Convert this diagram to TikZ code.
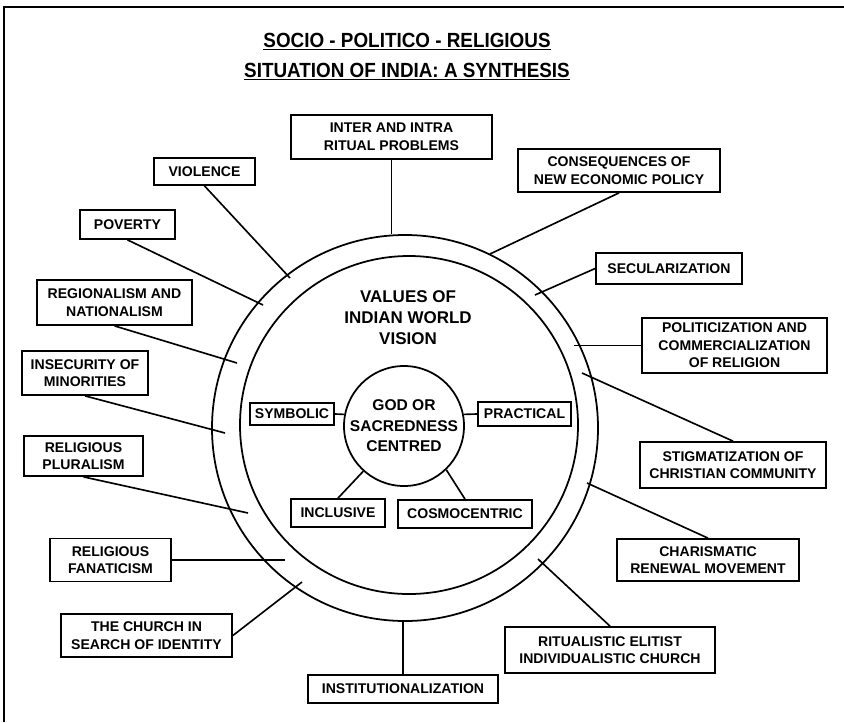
\documentclass[tikz,border=0pt]{standalone}
\usepackage{fontspec}
\setmainfont{Liberation Sans}
\newfontfamily\titlefont[FakeStretch=0.92]{Liberation Sans}
\usepackage{tikz}

\begin{document}
\begin{tikzpicture}[x=0.03cm,y=-0.03cm]
	\tikzstyle{box}=[draw=black,line width=1.5pt,align=center,inner sep=1pt,font=\fontsize{12}{15}\selectfont\bfseries]
	\tikzstyle{ring}=[draw=black,line width=1.5pt]
	\tikzstyle{link}=[draw=black,line width=1.4pt]
	\useasboundingbox (0,0) rectangle (844,722);
	\draw[line width=1.5pt] (4,722) -- (4,7) -- (844,7);
	\node[anchor=base,font=\titlefont\bfseries\fontsize{17.5}{20}\selectfont] (t1) at (407,47) {\underline{SOCIO - POLITICO - RELIGIOUS}};
	\node[anchor=base,font=\titlefont\bfseries\fontsize{17.5}{20}\selectfont] (t2) at (407,77) {\underline{SITUATION OF INDIA: A SYNTHESIS}};
	\draw[ring] (405,428) circle (5.79cm);
	\draw[ring] (409,425) circle (5.07cm);
	\node[align=center,font=\fontsize{14.5}{18}\selectfont\bfseries] (val) at (408,318) {VALUES OF\\INDIAN WORLD\\VISION};
	\node[circle,ring,minimum size=3.6cm,inner sep=0pt,align=center,font=\fontsize{13.3}{17.5}\selectfont\bfseries] (god) at (404,426) {GOD OR\\SACREDNESS\\CENTRED};
	\node[box,minimum width=6.03cm,minimum height=1.32cm] (inter) at (391.5,137) {INTER AND INTRA\\RITUAL PROBLEMS};
	\node[box,minimum width=3.03cm,minimum height=0.81cm] (viol) at (204.5,171.5) {VIOLENCE};
	\node[box,minimum width=6.06cm,minimum height=1.29cm] (cons) at (619,170.5) {CONSEQUENCES OF\\NEW ECONOMIC POLICY};
	\node[box,minimum width=2.85cm,minimum height=0.87cm] (pov) at (127.5,224.5) {POVERTY};
	\node[box,minimum width=4.38cm,minimum height=0.93cm] (sec) at (669,268.5) {SECULARIZATION};
	\node[box,minimum width=4.65cm,minimum height=1.35cm] (reg) at (114.5,302.5) {REGIONALISM AND\\NATIONALISM};
	\node[box,minimum width=5.55cm,minimum height=1.65cm] (pol) at (734.5,345.5) {POLITICIZATION AND\\COMMERCIALIZATION\\OF RELIGION};
	\node[box,minimum width=3.78cm,minimum height=1.32cm] (ins) at (85,373) {INSECURITY OF\\MINORITIES};
	\node[box,minimum width=5.58cm,minimum height=1.38cm] (stig) at (733,465) {STIGMATIZATION OF\\CHRISTIAN COMMUNITY};
	\node[box,minimum width=3.57cm,minimum height=1.2cm] (plur) at (83.5,456) {RELIGIOUS\\PLURALISM};
	\node[box,minimum width=3.63cm,minimum height=1.29cm] (fan) at (110.5,560) {RELIGIOUS\\FANATICISM};
	\node[box,minimum width=5.13cm,minimum height=1.29cm] (chu) at (146.5,635.5) {THE CHURCH IN\\SEARCH OF IDENTITY};
	\node[box,minimum width=5.7cm,minimum height=0.84cm] (inst) at (403,689) {INSTITUTIONALIZATION};
	\node[box,minimum width=6.3cm,minimum height=1.38cm] (rit) at (610,650) {RITUALISTIC ELITIST\\INDIVIDUALISTIC CHURCH};
	\node[box,minimum width=5.46cm,minimum height=1.26cm] (cha) at (708,560) {CHARISMATIC\\RENEWAL MOVEMENT};
	\node[box,minimum width=2.52cm,minimum height=0.66cm] (sym) at (292,414) {SYMBOLIC};
	\node[box,minimum width=2.79cm,minimum height=0.72cm] (pra) at (524.5,414) {PRACTICAL};
	\node[box,minimum width=2.82cm,minimum height=0.84cm] (inc) at (338,513) {INCLUSIVE};
	\node[box,minimum width=4.02cm,minimum height=0.84cm] (cos) at (465,514) {COSMOCENTRIC};
	\coordinate (p1) at (391.5,234);
	\coordinate (p2) at (290,278);
	\coordinate (p3) at (490,254);
	\coordinate (p4) at (263,305);
	\coordinate (p5) at (535,295);
	\coordinate (p6) at (237,363);
	\coordinate (p7) at (574,345.5);
	\coordinate (p8) at (225,433);
	\coordinate (p9) at (582,373);
	\coordinate (p10) at (248,513);
	\coordinate (p11) at (285,560);
	\coordinate (p12) at (302,582);
	\coordinate (p13) at (403,621);
	\coordinate (p14) at (538,559);
	\coordinate (p15) at (587,483);
	\draw[link] (inter.south) -- (p1);
	\draw[link] (viol.south) -- (p2);
	\draw[link] (cons.south) -- (p3);
	\draw[link] (pov.south) -- (p4);
	\draw[link] (sec.west) -- (p5);
	\draw[link] (reg.south) -- (p6);
	\draw[link] (pol.west) -- (p7);
	\draw[link] (ins.south) -- (p8);
	\draw[link] (stig.north) -- (p9);
	\draw[link] (plur.south) -- (p10);
	\draw[link] (fan.east) -- (p11);
	\draw[link] (chu.east) -- (p12);
	\draw[link] (inst.north) -- (p13);
	\draw[link] (rit.north) -- (p14);
	\draw[link] (cha.north) -- (p15);
	\draw[link] (sym.east) -- (god.169);
	\draw[link] (pra.west) -- (god.11);
	\draw[link] (inc.north) -- (god.228);
	\draw[link] (cos.north) -- (god.314);
\end{tikzpicture}
\end{document}
